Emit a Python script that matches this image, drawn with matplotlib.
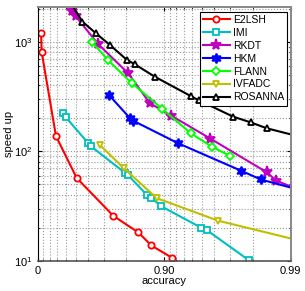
import matplotlib
matplotlib.use('Agg')
import matplotlib.pyplot as plt
import numpy as np

plt.rcParams['font.family'] = ['Liberation Sans', 'DejaVu Sans']
plt.rcParams['font.size'] = 8

# accuracy / speed-up (log scale on 1-accuracy)
e2lsh_acc = [0.062, 0.073, 0.285, 0.509, 0.748, 0.840, 0.874, 0.914, 0.937]
e2lsh_spd = [1205, 803, 138, 57.4, 25.9, 18.3, 13.9, 10.7, 8.3]

imi_acc = [0.376, 0.399, 0.603, 0.621, 0.796, 0.808, 0.864, 0.873, 0.895, 0.949, 0.954, 0.9785]
imi_spd = [222, 206, 118.7, 111.5, 63.8, 60.4, 40.0, 37.9, 31.6, 20.2, 19.2, 10.25]

rkdt_acc = [0.4253, 0.4685, 0.503, 0.667, 0.808, 0.870, 0.9126, 0.9568, 0.9845, 0.987, 0.9907]
rkdt_spd = [2371, 1901, 1694, 953, 514, 276, 211, 131, 64.7, 54.2, 46.3]

hkm_acc = [0.7255, 0.8135, 0.8234, 0.9224, 0.9755, 0.9828, 0.9907]
hkm_spd = [329, 201.6, 191, 118.7, 66.5, 55.5, 45.8]

flann_acc = [0.6317, 0.7236, 0.8193, 0.8961, 0.9384, 0.9583, 0.9699]
flann_spd = [984, 675, 421, 245.5, 146.4, 110, 91]

ivfadc_acc = [0.6769, 0.7933, 0.8858, 0.9625, 0.9915]
ivfadc_spd = [115, 69.9, 37.5, 23.4, 15.4]

rosanna_acc = [0.4355, 0.5583, 0.6532, 0.7344, 0.802, 0.8298, 0.8816, 0.9388, 0.9468,
               0.9716, 0.9794, 0.9845, 0.9915]
rosanna_spd = [2371, 1520, 1194, 924, 686, 621, 479, 318, 292, 207, 183.5, 162.6, 136.3]

xtick_acc = [0, 0.90, 0.99]
xtick_labels = ['0', '0.90', '0.99']

fig = plt.figure(figsize=(3.05, 2.91), dpi=100, facecolor='white')
ax = fig.add_axes([0.123, 0.1024, 0.830, 0.8746])

series = [
    ('E2LSH', e2lsh_acc, e2lsh_spd, '#ff0000', 'o', 4.5),
    ('IMI', imi_acc, imi_spd, '#00bfbf', 's', 4.5),
    ('RKDT', rkdt_acc, rkdt_spd, '#bf00bf', '*', 8),
    ('HKM', hkm_acc, hkm_spd, '#0000ff', (6, 1, 0), 7),
    ('FLANN', flann_acc, flann_spd, '#00ff00', 'D', 4),
    ('IVFADC', ivfadc_acc, ivfadc_spd, '#bfbf00', 'v', 5),
    ('ROSANNA', rosanna_acc, rosanna_spd, '#000000', '^', 5),
]

for name, acc, spd, col, mk, ms in series:
    x = 1 - np.array(acc)
    filled = mk in ('*',) or isinstance(mk, tuple)
    ax.plot(x, spd, color=col, lw=1.5, marker=mk, ms=ms, mew=1.3,
            mfc=col if filled else 'white', mec=col, label=name)

ax.set_xscale('log')
ax.set_yscale('log')
ax.set_xlim(1, 0.01)
ax.set_ylim(10, 2080)
ax.set_xticks([1 - a for a in xtick_acc])
ax.set_xticklabels(xtick_labels)
ax.tick_params(which='both', direction='in', top=True, right=True)
ax.tick_params(which='major', length=3)
ax.tick_params(which='minor', length=1.5)
ax.tick_params(axis='x', which='minor', labelbottom=False)

ax.grid(True, which='both', ls=':', color='#999999', lw=0.8)
for s in ['top', 'right']:
    ax.spines[s].set_color('#888888')
    ax.spines[s].set_linewidth(1.4)
ax.spines['bottom'].set_color('#555555')
ax.spines['bottom'].set_linewidth(1.2)

ax.set_xlabel('accuracy', labelpad=0)
ax.set_ylabel('speed up', labelpad=0)

leg = ax.legend(loc='upper right', bbox_to_anchor=(0.987, 0.98), borderaxespad=0,
                fontsize=7.5, handlelength=2.6, handletextpad=0.3, labelspacing=0.28,
                borderpad=0.3, fancybox=False, framealpha=1)
leg.get_frame().set_edgecolor('black')
leg.get_frame().set_linewidth(0.8)

fig.savefig('out.png', dpi=100)
